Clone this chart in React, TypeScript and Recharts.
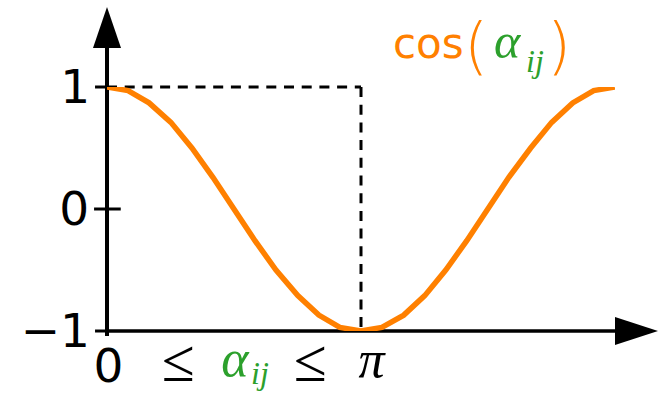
import { LineChart, Line, XAxis, YAxis, ReferenceLine, ReferenceDot } from "recharts"

// angle in radians
const angles = [
  0, 0.26, 0.52, 0.79, 1.05, 1.31, 1.57, 1.83, 2.09, 2.36, 2.62, 2.88, 3.14,
  3.4, 3.67, 3.93, 4.19, 4.45, 4.71, 4.97, 5.24, 5.5, 5.76, 6.02, 6.28,
]
const cosValues = [
  1, 0.97, 0.87, 0.71, 0.5, 0.26, 0, -0.26, -0.5, -0.71, -0.87, -0.97, -1,
  -0.97, -0.87, -0.71, -0.5, -0.26, 0, 0.26, 0.5, 0.71, 0.87, 0.97, 1,
]
const yTicks = [1, 0, -1]
const yTickLabels = ["1", "0", "\u22121"]
const PI = 3.1416
const X_MAX = 6.2832

const data = angles.map((x, i) => ({ x, y: cosValues[i] }))

const ORANGE = "#ff8000"
const GREEN = "#2ca02c"
const SANS = "DejaVu Sans"
const MATH = "Liberation Serif"

function UpArrow({ cx, cy }: { cx?: number; cy?: number }) {
  if (cx == null || cy == null) return null
  return <polygon points={`${cx - 14},${cy} ${cx + 14},${cy} ${cx},${cy - 41}`} fill="#000" />
}

function RightArrow({ cx, cy }: { cx?: number; cy?: number }) {
  if (cx == null || cy == null) return null
  return <polygon points={`${cx},${cy - 14} ${cx},${cy + 14} ${cx + 43},${cy}`} fill="#000" />
}

// "cos(α_ij)" anchored at (2π, 1)
function CosLabel({ cx, cy }: { cx?: number; cy?: number }) {
  if (cx == null || cy == null) return null
  return (
    <g>
      <text x={cx - 222} y={cy - 29} fontFamily={SANS} fontSize={42} fill={ORANGE}>
        cos
      </text>
      <text x={cx - 139} y={cy - 20} fontFamily={SANS} fontWeight={200} fontSize={62} fill={ORANGE} textAnchor="middle">
        (
      </text>
      <text x={cx - 108} y={cy - 29} fontFamily={MATH} fontStyle="italic" fontSize={50} fill={GREEN} textAnchor="middle">
        α
      </text>
      <text x={cx - 80} y={cy - 15} fontFamily={MATH} fontStyle="italic" fontSize={32} fill={GREEN} textAnchor="middle">
        ij
      </text>
      <text x={cx - 56} y={cy - 20} fontFamily={SANS} fontWeight={200} fontSize={62} fill={ORANGE} textAnchor="middle">
        )
      </text>
    </g>
  )
}

// "0 ≤ α_ij ≤ π" anchored at (0, -1)
function RangeLabel({ cx, cy }: { cx?: number; cy?: number }) {
  if (cx == null || cy == null) return null
  return (
    <g fill="#000">
      <text x={cx + 1.5} y={cy + 51} fontFamily={SANS} fontSize={47} textAnchor="middle">0</text>
      <text x={cx + 71.5} y={cy + 50} fontFamily={SANS} fontWeight={200} fontSize={60} textAnchor="middle">≤</text>
      <text x={cx + 128} y={cy + 45} fontFamily={MATH} fontStyle="italic" fontSize={52} fill={GREEN} textAnchor="middle">α</text>
      <text x={cx + 153} y={cy + 53} fontFamily={MATH} fontStyle="italic" fontSize={32} fill={GREEN} textAnchor="middle">ij</text>
      <text x={cx + 203.5} y={cy + 50} fontFamily={SANS} fontWeight={200} fontSize={60} textAnchor="middle">≤</text>
      <text x={cx + 264.5} y={cy + 46} fontFamily={MATH} fontStyle="italic" fontSize={52} textAnchor="middle">π</text>
    </g>
  )
}

function tickLabel(text: string) {
  return (props: any) => {
    const vb = props.viewBox || {}
    return (
      <text x={vb.x - 5} y={vb.y + 16} fontFamily={SANS} fontSize={47} textAnchor="end" fill="#000">
        {text}
      </text>
    )
  }
}

export default function App() {
  return (
    <div style={{ position: "absolute", left: 0, top: 0, background: "#fff" }}>
      <LineChart width={661} height={396} data={data} margin={{ top: 87, right: 46, bottom: 65, left: 107 }}>
        <XAxis dataKey="x" type="number" domain={[0, X_MAX]} hide allowDataOverflow />
        <YAxis type="number" domain={[-1, 1]} hide allowDataOverflow />

        {/* dashed guides */}
        <ReferenceLine segment={[{ x: 0, y: 1 }, { x: PI, y: 1 }]} stroke="#000" strokeWidth={3} strokeDasharray="10 7.7" ifOverflow="visible" />
        <ReferenceLine segment={[{ x: PI, y: 1 }, { x: PI, y: -1 }]} stroke="#000" strokeWidth={3} strokeDasharray="10 7.7" ifOverflow="visible" />

        {/* axes */}
        <ReferenceLine segment={[{ x: 0, y: -1.04 }, { x: 0, y: 1.32 }]} stroke="#000" strokeWidth={4} ifOverflow="visible" />
        <ReferenceLine segment={[{ x: 0, y: -1 }, { x: X_MAX, y: -1 }]} stroke="#000" strokeWidth={3.5} ifOverflow="visible" />
        <ReferenceDot x={0} y={1.32} r={1} ifOverflow="visible" shape={UpArrow} />
        <ReferenceDot x={X_MAX} y={-1} r={1} ifOverflow="visible" shape={RightArrow} />

        {/* y ticks */}
        {yTicks.map((t, i) => (
          <ReferenceLine
            key={t}
            segment={[{ x: t === 0 ? -0.16 : -0.148, y: t }, { x: t === 0 ? 0.17 : 0, y: t }]}
            stroke="#000"
            strokeWidth={3}
            ifOverflow="visible"
            label={{ content: tickLabel(yTickLabels[i]) }}
          />
        ))}

        <ReferenceDot x={X_MAX} y={1} r={1} ifOverflow="visible" shape={CosLabel} />
        <ReferenceDot x={0} y={-1} r={1} ifOverflow="visible" shape={RangeLabel} />

        <Line dataKey="y" type="linear" stroke={ORANGE} strokeWidth={5.5} dot={false} isAnimationActive={false} />
      </LineChart>
    </div>
  )
}
